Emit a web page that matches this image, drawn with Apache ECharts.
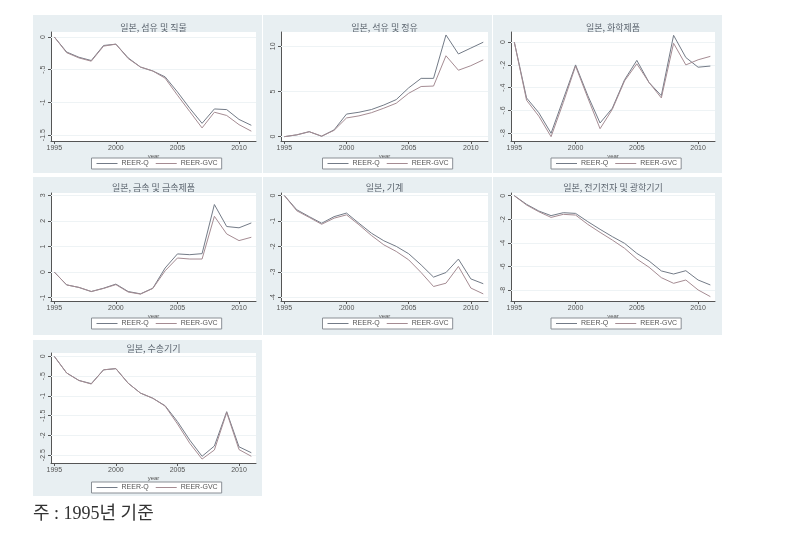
<!DOCTYPE html>
<html><head><meta charset="utf-8">
<script src="https://cdn.jsdelivr.net/npm/echarts@6/dist/echarts.min.js"></script>
<style>html,body{margin:0;padding:0;background:#fff}#c{width:812px;height:550px}</style>
</head><body><div id="c"></div>
<script>
// ---- data ----
const years = [1995,1996,1997,1998,1999,2000,2001,2002,2003,2004,2005,2006,2007,2008,2009,2010,2011];
const xTicks = [1995,2000,2005,2010];
const seriesNames = ['REER-Q','REER-GVC'];
const titles = ['일본, 섬유 및 직물','일본, 석유 및 정유','일본, 화학제품','일본, 금속 및 금속제품','일본, 기계','일본, 전기전자 및 광학기기','일본, 수송기기'];
const footnote = '주 : 1995년 기준';

const q1 = [0,-0.23,-0.31,-0.36,-0.13,-0.11,-0.32,-0.46,-0.52,-0.61,-0.84,-1.09,-1.32,-1.10,-1.11,-1.26,-1.35];
const g1 = [0,-0.24,-0.32,-0.37,-0.14,-0.11,-0.33,-0.46,-0.52,-0.63,-0.89,-1.14,-1.39,-1.15,-1.20,-1.34,-1.44];
const q2 = [0,0.2,0.55,0.05,0.75,2.5,2.7,3.0,3.5,4.1,5.4,6.45,6.45,11.25,9.15,9.8,10.45];
const g2 = [0,0.2,0.55,0.05,0.7,2.07,2.3,2.65,3.15,3.7,4.8,5.55,5.6,8.95,7.35,7.85,8.5];
const q3 = [0,-0.49,-0.62,-0.80,-0.50,-0.20,-0.47,-0.71,-0.58,-0.33,-0.16,-0.355,-0.47,0.06,-0.135,-0.22,-0.21];
const g3 = [0,-0.51,-0.65,-0.83,-0.53,-0.21,-0.49,-0.76,-0.59,-0.34,-0.19,-0.355,-0.49,-0.01,-0.2,-0.155,-0.125];
const q4 = [0,-0.5,-0.6,-0.76,-0.63,-0.47,-0.76,-0.85,-0.63,0.16,0.71,0.68,0.72,2.64,1.78,1.73,1.92];
const g4 = [0,-0.5,-0.6,-0.76,-0.64,-0.49,-0.78,-0.86,-0.64,0.05,0.55,0.51,0.51,2.18,1.49,1.23,1.36];
const q5 = [0,-0.56,-0.83,-1.09,-0.83,-0.69,-1.09,-1.48,-1.78,-2.0,-2.29,-2.73,-3.21,-3.03,-2.5,-3.28,-3.47];
const g5 = [0,-0.6,-0.86,-1.13,-0.89,-0.76,-1.15,-1.57,-1.94,-2.2,-2.53,-3.03,-3.58,-3.45,-2.79,-3.64,-3.87];
const q6 = [0,-0.73,-1.30,-1.69,-1.44,-1.50,-2.2,-2.85,-3.47,-4.04,-4.89,-5.54,-6.38,-6.64,-6.36,-7.15,-7.57];
const g6 = [0,-0.79,-1.36,-1.84,-1.58,-1.64,-2.43,-3.11,-3.76,-4.46,-5.37,-6.07,-6.95,-7.43,-7.15,-7.99,-8.56];
const q7 = [0,-0.42,-0.61,-0.69,-0.34,-0.31,-0.68,-0.93,-1.06,-1.25,-1.65,-2.12,-2.53,-2.27,-1.4,-2.29,-2.44];
const g7 = [0,-0.42,-0.61,-0.70,-0.34,-0.31,-0.68,-0.93,-1.06,-1.26,-1.71,-2.2,-2.6,-2.37,-1.42,-2.36,-2.53];

const t1 = [0,-0.5,-1,-1.5];
const t2 = [0,5,10];
const t3 = [0,-0.2,-0.4,-0.6,-0.8];
const t4 = [-1,0,1,2,3];
const t5 = [0,-1,-2,-3,-4];
const t6 = [0,-2,-4,-6,-8];
const t7 = [0,-0.5,-1,-1.5,-2,-2.5];

const qs = [q1,q2,q3,q4,q5,q6,q7];
const gs = [g1,g2,g3,g4,g5,g6,g7];
const ticks = [t1,t2,t3,t4,t5,t6,t7];

// ---- layout ----
const yRange = [[-1.59,0.076],[-0.48,11.58],[-0.868,0.089],[-1.13,3.09],[-4.15,0.1],[-8.93,0.23],[-2.7,0.086]];
const xRange = [1994.73, 2011.38];
const colPanelX = [33,263,493], panelW = 229;
const rowPanelY = [15,177,340], rowPanelH = [158,158,156];
const colGridX = [51,281,511], colGridW = [205,207,204];
const rowGridY = [32,193,353], rowGridH = [109,108,110];
const rowTitleY = [23,183,344];
const rowLegendY = [158,318,482];
const colorQ = '#737b87', colorG = '#a58c93';
const panelBg = '#e8eff2';
const fmt = v => String(v).replace(/^(-?)0\./,'$1.');

const grid=[], xAxis=[], yAxis=[], series=[], title=[], legend=[], graphic=[];
for (let i=0;i<7;i++){
  const c=i%3, r=Math.floor(i/3);
  graphic.push({type:'rect', z:-100, shape:{x:colPanelX[c], y:rowPanelY[r], width:panelW, height:rowPanelH[r]}, style:{fill:panelBg}});
  const gl=colGridX[c], gw=colGridW[c], gt=rowGridY[r], gh=rowGridH[r];
  grid.push({left:gl, top:gt, width:gw, height:gh, show:true, backgroundColor:'#fff', borderWidth:0, containLabel:false});
  const cx = gl+gw/2;
  title.push({text:titles[i], left:cx, top:rowTitleY[r], textAlign:'center', padding:0,
    textStyle:{fontSize:9, fontWeight:'normal', color:'#5d6670', fontFamily:'"Noto Sans CJK KR", sans-serif'}});
  legend.push({data:seriesNames, left:cx-62, top:rowLegendY[r], orient:'horizontal', icon:'rect', itemWidth:21, itemHeight:1, itemGap:7,
    backgroundColor:'#fff', borderColor:'#8a8f95', borderWidth:1, borderRadius:0, padding:[2,4,2,5], selectedMode:false,
    textStyle:{fontSize:7, color:'#555', fontFamily:'"Liberation Sans", Arial, sans-serif', padding:[0,0,0,-1]}});
  xAxis.push({type:'value', gridIndex:i, min:xRange[0], max:xRange[1], name:'year', nameLocation:'middle', nameGap:8,
    nameTextStyle:{fontSize:6, color:'#555', fontFamily:'"Liberation Sans", Arial, sans-serif', verticalAlign:'top'},
    axisLine:{show:true, onZero:false, lineStyle:{color:'#555', width:1}},
    axisTick:{show:true, length:3, customValues:xTicks, lineStyle:{color:'#555'}},
    axisLabel:{customValues:xTicks, fontSize:7, color:'#555', margin:4, fontFamily:'"Liberation Sans", Arial, sans-serif', formatter:v=>String(v)},
    splitLine:{show:false}});
  yAxis.push({type:'value', gridIndex:i, min:yRange[i][0], max:yRange[i][1],
    axisLine:{show:true, onZero:false, lineStyle:{color:'#555', width:1}},
    axisTick:{show:true, length:3, customValues:ticks[i], lineStyle:{color:'#555'}},
    axisLabel:{customValues:ticks[i], rotate:90, fontSize:7, color:'#555', margin:4, fontFamily:'"Liberation Sans", Arial, sans-serif', formatter:fmt},
    splitLine:{show:false}});
  series.push({name:seriesNames[0], type:'line', xAxisIndex:i, yAxisIndex:i, data:years.map((y,k)=>[y,qs[i][k]]),
    symbol:'none', lineStyle:{width:1, color:colorQ}, itemStyle:{color:colorQ}, silent:true, animation:false,
    markLine:{silent:true, symbol:'none', label:{show:false}, lineStyle:{color:'#eef3f5', width:1, type:'solid'}, data:ticks[i].map(v=>({yAxis:v})), z:1}});
  series.push({name:seriesNames[1], type:'line', xAxisIndex:i, yAxisIndex:i, data:years.map((y,k)=>[y,gs[i][k]]),
    symbol:'none', lineStyle:{width:1, color:colorG}, itemStyle:{color:colorG}, silent:true, animation:false});
}
title.push({text:footnote, left:33, top:505, padding:0, textStyle:{fontSize:18, fontWeight:'normal', color:'#333', fontFamily:'"Liberation Serif", "Noto Sans CJK KR", serif'}});

const chart = echarts.init(document.getElementById('c'), null, {renderer:'canvas'});
chart.setOption({animation:false, backgroundColor:'#fff', grid, xAxis, yAxis, series, title, legend, graphic});
</script></body></html>
